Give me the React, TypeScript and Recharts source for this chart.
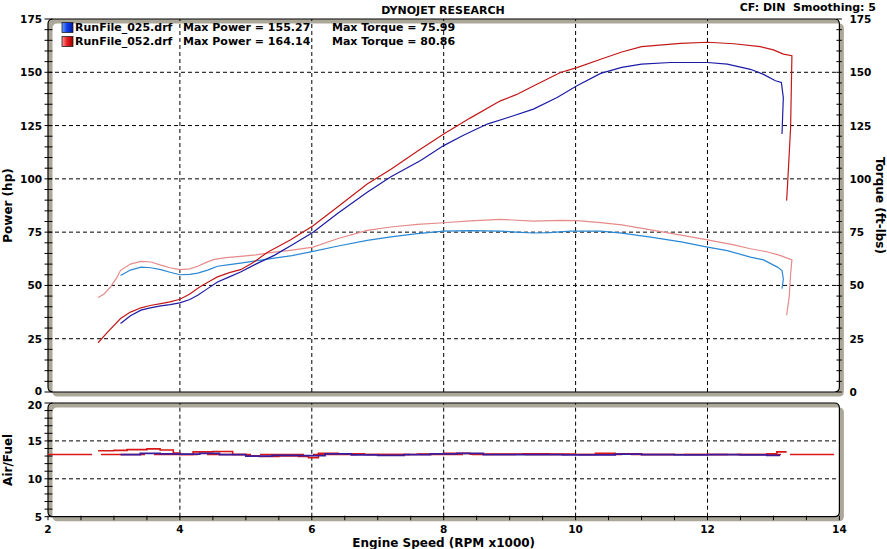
import React from 'react';
import { LineChart, Line, XAxis, YAxis, ReferenceLine, ReferenceArea, Label } from 'recharts';

// ---------- data ----------
const rpmPow025 = [3.1, 3.25, 3.41, 3.55, 3.71, 3.85, 4.0, 4.15, 4.27, 4.42, 4.57, 4.75, 4.92, 5.15, 5.43, 5.7, 6.02, 6.4, 6.84, 7.2, 7.65, 8.0, 8.3, 8.66, 9.0, 9.36, 9.72, 10.02, 10.38, 10.7, 11.0, 11.44, 12.0, 12.3, 12.65, 12.85, 13.03, 13.12, 13.15, 13.14, 13.13];
const hp025 = [32.1, 35.8, 38.4, 39.5, 40.4, 41.0, 41.8, 43.4, 45.4, 48.5, 51.6, 54.0, 56.3, 60.0, 64.1, 69.0, 75.0, 84.0, 93.7, 101.0, 108.6, 115.6, 120.5, 125.7, 129.0, 132.7, 138.2, 143.7, 149.5, 152.3, 153.8, 154.6, 154.6, 153.8, 151.4, 149.0, 146.0, 145.2, 138.0, 130.0, 121.0];

const rpmPow052 = [2.76, 2.9, 3.1, 3.25, 3.41, 3.55, 3.71, 3.85, 4.0, 4.15, 4.3, 4.45, 4.57, 4.75, 4.92, 5.1, 5.33, 5.68, 6.02, 6.4, 6.84, 7.2, 7.6, 8.0, 8.4, 8.86, 9.1, 9.36, 9.77, 10.02, 10.38, 10.7, 11.0, 11.59, 12.0, 12.4, 12.8, 13.0, 13.15, 13.28, 13.26, 13.22, 13.2];
const hp052 = [23.1, 28.0, 34.5, 37.5, 39.5, 40.6, 41.5, 42.3, 43.5, 46.0, 49.3, 52.0, 54.0, 56.0, 57.4, 60.5, 65.6, 71.4, 78.0, 87.0, 97.6, 104.5, 113.0, 121.0, 128.5, 136.6, 139.5, 143.6, 149.9, 152.2, 156.1, 159.5, 162.0, 163.6, 164.1, 163.4, 162.0, 160.5, 158.5, 157.8, 124.0, 100.7, 89.8];

const rpmTq025 = [3.1, 3.25, 3.41, 3.56, 3.71, 3.85, 4.0, 4.15, 4.27, 4.42, 4.57, 4.75, 4.92, 5.15, 5.43, 5.7, 6.02, 6.4, 6.84, 7.2, 7.6, 8.0, 8.4, 8.86, 9.1, 9.36, 9.6, 9.92, 10.38, 10.7, 11.14, 11.6, 12.0, 12.3, 12.65, 12.85, 13.06, 13.13, 13.15, 13.13];
const tq025 = [54.7, 57.2, 58.6, 58.3, 57.4, 56.2, 55.0, 55.2, 55.8, 57.2, 59.0, 59.8, 60.5, 61.5, 62.8, 64.0, 66.0, 68.5, 71.1, 72.8, 74.3, 75.5, 75.7, 75.5, 75.0, 74.6, 74.8, 75.5, 75.5, 74.5, 72.7, 70.4, 68.0, 66.3, 63.3, 62.0, 58.6, 57.0, 53.0, 48.5];

const rpmTq052 = [2.76, 2.85, 2.95, 3.05, 3.1, 3.25, 3.41, 3.56, 3.71, 3.85, 4.0, 4.15, 4.27, 4.4, 4.52, 4.7, 4.92, 5.15, 5.43, 5.7, 6.02, 6.4, 6.84, 7.2, 7.6, 8.0, 8.4, 8.86, 9.36, 9.77, 10.02, 10.38, 10.7, 11.14, 11.6, 12.0, 12.4, 12.65, 12.9, 13.1, 13.28, 13.26, 13.24, 13.2];
const tq052 = [44.3, 46.0, 49.3, 54.0, 57.1, 60.0, 61.3, 61.0, 59.5, 58.3, 57.4, 57.8, 59.0, 60.8, 62.2, 63.0, 63.6, 64.3, 65.6, 66.6, 68.0, 72.0, 75.8, 77.4, 78.6, 79.4, 80.3, 81.0, 80.2, 80.5, 80.4, 79.5, 78.4, 76.1, 73.6, 71.4, 69.0, 67.2, 65.8, 64.1, 62.0, 55.0, 45.0, 36.0];

const rpmAfr025 = [3.1, 3.4, 3.7, 4.0, 4.3, 4.6, 5.0, 5.4, 5.8, 6.2, 6.6, 7.0, 7.4, 7.8, 8.2, 8.6, 9.0, 9.4, 9.8, 10.2, 10.6, 11.0, 11.5, 12.0, 12.5, 12.9, 13.1];
const afr025 = [13.2, 13.35, 13.3, 13.25, 13.35, 13.2, 13.0, 13.1, 13.05, 13.3, 13.15, 13.1, 13.2, 13.3, 13.35, 13.2, 13.2, 13.2, 13.15, 13.15, 13.25, 13.2, 13.15, 13.2, 13.15, 13.1, 13.1];

const rpmAfr052 = [2.76, 3.0, 3.2, 3.5, 3.7, 3.9, 4.0, 4.2, 4.5, 4.8, 5.0, 5.2, 5.5, 5.8, 5.95, 6.1, 6.4, 6.8, 7.2, 7.6, 8.0, 8.4, 8.8, 9.2, 9.6, 10.0, 10.3, 10.6, 11.0, 11.5, 12.0, 12.5, 12.9, 13.05, 13.2];
const afr052 = [13.7, 13.75, 13.85, 13.95, 13.8, 13.4, 13.2, 13.55, 13.6, 13.2, 13.05, 12.95, 13.0, 12.95, 12.8, 13.35, 13.3, 13.2, 13.2, 13.25, 13.35, 13.25, 13.25, 13.3, 13.25, 13.2, 13.35, 13.3, 13.2, 13.2, 13.2, 13.2, 13.3, 13.55, 13.55];

const afrTarget = 13.2;

// ---------- axis / label lists ----------
const rpmLabels = [2, 4, 6, 8, 10, 12, 14];
const powerLabels = [0, 25, 50, 75, 100, 125, 150, 175];
const afrLabels = [5, 10, 15, 20];
const rpmGrid = [4, 6, 8, 10, 12];
const powerGrid = [25, 50, 75, 100, 125, 150];
const afrGrid = [10, 15];

const runNames = ['RunFile_025.drf', 'RunFile_052.drf'];
const maxPower = ['155.27', '164.14'];
const maxTorque = ['75.99', '80.86'];

// minor tick helpers (ticks only, not data)
const range = (a: number, b: number, s: number) => {
  const out: number[] = [];
  for (let v = a; v <= b + 1e-9; v += s) out.push(Math.round(v * 100) / 100);
  return out;
};
const powerTicks = range(0, 175, 5);
const afrTicks = range(5, 20, 1);
const rpmTicks = range(2, 14, 0.5);

const pts = (xs: number[], ys: number[]) => xs.map((rpm, i) => ({ rpm, v: ys[i] }));

// ---------- styling ----------
const W = 887;
const H = 549;
const FONT = '"DejaVu Sans", Verdana, sans-serif';
const SHADOW = '#aca899';
const C_BLUE_P = '#1c1ca6';
const C_RED_P = '#c41818';
const C_BLUE_T = '#2a88d4';
const C_RED_T = '#e68a8a';
const C_AFR_BLUE = '#3a1c9c';
const C_AFR_RED = '#d81818';

const txt = (size: number): React.CSSProperties => ({ fontFamily: FONT, fontWeight: 'bold', fontSize: size, fill: '#000' });

const rrPath = (x: number, y: number, w: number, h: number, r: number) =>
  `M${x + r},${y} H${x + w - r} Q${x + w},${y} ${x + w},${y + r} V${y + h - r} Q${x + w},${y + h} ${x + w - r},${y + h} H${x + r} Q${x},${y + h} ${x},${y + h - r} V${y + r} Q${x},${y} ${x + r},${y} Z`;

const Panel = (p: any) => {
  const { x, y, width, height } = p;
  const off = 4.5;
  const shadow = rrPath(x + off, y + off, width, height, 5) + ' ' + rrPath(x, y, width, height, 5);
  return (
    <g>
      <path d={shadow} fill={SHADOW} fillRule="evenodd" />
      <path d={rrPath(x, y, width, height, 5)} fill="none" stroke="#000" strokeWidth={1.2} />
    </g>
  );
};

// labelShift: small vertical nudges so adjacent panel labels don't collide
const makeLeftTick = (labels: number[], labelShift: Record<number, number>) => (p: any) => {
  const { x, y, payload } = p;
  const v = payload.value;
  const isLab = labels.includes(v);
  return (
    <g>
      <line x1={x - 3.5} x2={x + 4.5} y1={y} y2={y} stroke="#000" strokeWidth={1} />
      {isLab && (
        <text x={x - 6} y={y + (labelShift[v] || 0)} textAnchor="end" dominantBaseline="central" style={txt(10.5)}>
          {v}
        </text>
      )}
    </g>
  );
};

const makeRightTick = (labels: number[]) => (p: any) => {
  const { x, y, payload } = p;
  const v = payload.value;
  const isLab = labels.includes(v);
  return (
    <g>
      <line x1={x - 3} x2={x + 2.5} y1={y} y2={y} stroke="#000" strokeWidth={1} />
      {isLab && (
        <text x={x + 10} y={y} textAnchor="start" dominantBaseline="central" style={txt(10.5)}>
          {v}
        </text>
      )}
    </g>
  );
};

const BottomTick = (p: any) => {
  const { x, y, payload } = p;
  const v = payload.value;
  const isLab = rpmLabels.includes(v);
  return (
    <g>
      <line x1={x} x2={x} y1={y - 1} y2={y + 3.5} stroke="#000" strokeWidth={1} />
      {isLab && (
        <text x={x} y={y + 12.5} textAnchor="middle" dominantBaseline="central" style={txt(10.5)}>
          {v}
        </text>
      )}
    </g>
  );
};

const vLabel = (text: string, dx: number, angle: number) => (p: any) => {
  const vb = p.viewBox || {};
  const cx = vb.x + dx;
  const cy = vb.y + vb.height / 2;
  return (
    <text x={cx} y={cy} transform={`rotate(${angle} ${cx} ${cy})`} textAnchor="middle" dominantBaseline="central" style={txt(12)}>
      {text}
    </text>
  );
};

const xTitle = (p: any) => {
  const vb = p.viewBox || {};
  return (
    <text x={vb.x + vb.width / 2} y={vb.y + 26.5} textAnchor="middle" dominantBaseline="central" style={txt(12)}>
      Engine Speed (RPM x1000)
    </text>
  );
};

const grid = { stroke: '#000', strokeDasharray: '4 3', strokeWidth: 1 };

export default function App() {
  const wrap: React.CSSProperties = { position: 'absolute', left: 0, top: 0, width: W, height: H };
  return (
    <div style={{ position: 'absolute', left: 0, top: 0, width: W, height: H, background: '#fff' }}>
      {/* top chart: power & torque */}
      <div style={wrap}>
        <LineChart width={W} height={H} margin={{ top: 19, right: 7.6, bottom: 157, left: 8 }}>
          <XAxis xAxisId="x" type="number" dataKey="rpm" domain={[2, 14]} hide allowDataOverflow />
          <YAxis
            yAxisId="hp"
            type="number"
            domain={[0, 175]}
            ticks={powerTicks}
            interval={0}
            width={40}
            tickSize={0}
            tickMargin={0}
            axisLine={false}
            tickLine={false}
            tick={makeLeftTick(powerLabels, { 0: -1.5 })}
            allowDataOverflow
            label={<Label content={vLabel('Power (hp)', -0.5, -90)} />}
          />
          <YAxis
            yAxisId="tq"
            orientation="right"
            type="number"
            domain={[0, 175]}
            ticks={powerTicks}
            interval={0}
            width={40}
            tickSize={0}
            tickMargin={0}
            axisLine={false}
            tickLine={false}
            tick={makeRightTick(powerLabels)}
            allowDataOverflow
            label={<Label content={vLabel('Torque (ft-lbs)', 40.6, 90)} />}
          />
          <ReferenceArea xAxisId="x" yAxisId="hp" x1={2} x2={14} y1={0} y2={175} shape={<Panel />} ifOverflow="visible" />
          {powerGrid.map((v) => (
            <ReferenceLine key={'h' + v} xAxisId="x" yAxisId="hp" y={v} {...grid} />
          ))}
          {rpmGrid.map((v) => (
            <ReferenceLine key={'v' + v} xAxisId="x" yAxisId="hp" x={v} {...grid} />
          ))}
          <Line xAxisId="x" yAxisId="tq" data={pts(rpmTq052, tq052)} dataKey="v" type="linear" stroke={C_RED_T} strokeWidth={1.2} dot={false} isAnimationActive={false} />
          <Line xAxisId="x" yAxisId="tq" data={pts(rpmTq025, tq025)} dataKey="v" type="linear" stroke={C_BLUE_T} strokeWidth={1.2} dot={false} isAnimationActive={false} />
          <Line xAxisId="x" yAxisId="hp" data={pts(rpmPow052, hp052)} dataKey="v" type="linear" stroke={C_RED_P} strokeWidth={1.2} dot={false} isAnimationActive={false} />
          <Line xAxisId="x" yAxisId="hp" data={pts(rpmPow025, hp025)} dataKey="v" type="linear" stroke={C_BLUE_P} strokeWidth={1.2} dot={false} isAnimationActive={false} />
        </LineChart>
      </div>

      {/* bottom chart: air/fuel */}
      <div style={wrap}>
        <LineChart width={W} height={H} margin={{ top: 403, right: 47.6, bottom: 2.3, left: 8 }}>
          <XAxis
            xAxisId="x"
            type="number"
            dataKey="rpm"
            domain={[2, 14]}
            ticks={rpmTicks}
            interval={0}
            height={30}
            tickSize={0}
            tickMargin={0}
            axisLine={false}
            tickLine={false}
            tick={BottomTick}
            allowDataOverflow
            label={<Label content={xTitle} />}
          />
          <YAxis
            yAxisId="afr"
            type="number"
            domain={[5, 20]}
            ticks={afrTicks}
            interval={0}
            width={40}
            tickSize={0}
            tickMargin={0}
            axisLine={false}
            tickLine={false}
            tick={makeLeftTick(afrLabels, { 20: 1.5 })}
            allowDataOverflow
            label={<Label content={vLabel('Air/Fuel', 0, -90)} />}
          />
          <ReferenceArea xAxisId="x" yAxisId="afr" x1={2} x2={14} y1={5} y2={20} shape={<Panel />} ifOverflow="visible" />
          {afrGrid.map((v) => (
            <ReferenceLine key={'h' + v} xAxisId="x" yAxisId="afr" y={v} {...grid} />
          ))}
          {rpmGrid.map((v) => (
            <ReferenceLine key={'v' + v} xAxisId="x" yAxisId="afr" x={v} {...grid} />
          ))}
          <ReferenceLine xAxisId="x" yAxisId="afr" y={afrTarget} stroke={C_AFR_RED} strokeWidth={1.4} strokeDasharray="44 9" />
          <Line xAxisId="x" yAxisId="afr" data={pts(rpmAfr052, afr052)} dataKey="v" type="stepAfter" stroke={C_AFR_RED} strokeWidth={1.6} dot={false} isAnimationActive={false} />
          <Line xAxisId="x" yAxisId="afr" data={pts(rpmAfr025, afr025)} dataKey="v" type="stepAfter" stroke={C_AFR_BLUE} strokeWidth={1.8} dot={false} isAnimationActive={false} />
        </LineChart>
      </div>

      {/* header + legend */}
      <svg width={W} height={H} style={{ position: 'absolute', left: 0, top: 0, pointerEvents: 'none' }}>
        <defs>
          <linearGradient id="gBlue" x1="0" y1="0" x2="1" y2="0">
            <stop offset="0" stopColor="#6aa0ff" />
            <stop offset="0.45" stopColor="#1040e8" />
            <stop offset="1" stopColor="#0018a0" />
          </linearGradient>
          <linearGradient id="gRed" x1="0" y1="0" x2="1" y2="0">
            <stop offset="0" stopColor="#ff9a9a" />
            <stop offset="0.45" stopColor="#e82020" />
            <stop offset="1" stopColor="#a00000" />
          </linearGradient>
        </defs>
        <text x={443} y={10} textAnchor="middle" dominantBaseline="central" style={txt(11)}>
          DYNOJET RESEARCH
        </text>
        <text x={876} y={7.5} textAnchor="end" dominantBaseline="central" style={{ ...txt(11), whiteSpace: 'pre' }}>
          {'CF: DIN  Smoothing: 5'}
        </text>
        {runNames.map((name, i) => {
          const cy = 27.5 + i * 14;
          return (
            <g key={name}>
              <rect x={62} y={cy - 5} width={11} height={10} fill={i === 0 ? 'url(#gBlue)' : 'url(#gRed)'} stroke="#202020" strokeWidth={0.8} />
              <text x={75} y={cy} dominantBaseline="central" style={txt(11)}>
                {name}
              </text>
              <text x={183} y={cy} dominantBaseline="central" style={txt(11)}>
                {'Max Power = ' + maxPower[i]}
              </text>
              <text x={332} y={cy} dominantBaseline="central" style={txt(11)}>
                {'Max Torque = ' + maxTorque[i]}
              </text>
            </g>
          );
        })}
      </svg>
    </div>
  );
}
